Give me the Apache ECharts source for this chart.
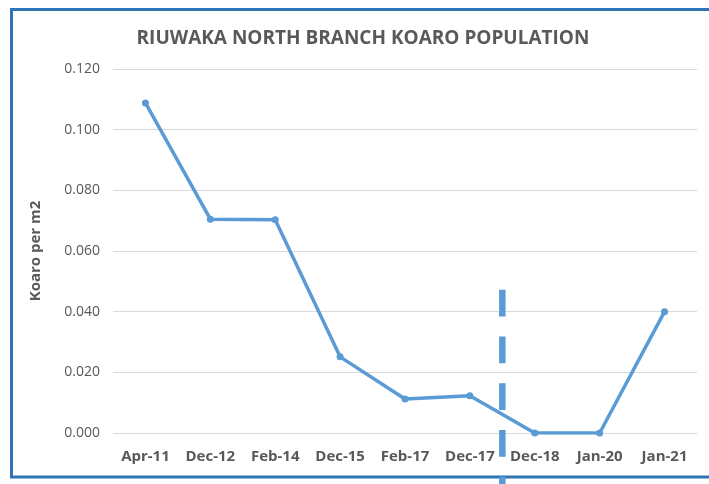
<!DOCTYPE html>
<html><head><meta charset="utf-8">
<script src="https://cdn.jsdelivr.net/npm/echarts@6/dist/echarts.min.js"></script>
<style>html,body{margin:0;padding:0;background:#fff}#c{width:709px;height:484px}</style>
</head><body><div id="c"></div>
<script>
const categories = ['Apr-11','Dec-12','Feb-14','Dec-15','Feb-17','Dec-17','Dec-18','Jan-20','Jan-21'];
const koaroPerM2 = [0.1088, 0.0705, 0.0703, 0.0251, 0.0112, 0.0123, 0.000, 0.000, 0.040];
const yTicks = {min: 0, max: 0.12, interval: 0.02};
const dividerBetween = ['Dec-17','Dec-18'];
const dividerTopValue = 0.0472;

const chart = echarts.init(document.getElementById('c'));
const font = '"Open Sans", "Liberation Sans", sans-serif';
chart.setOption({
  animation: false,
  title: {
    text: 'RIUWAKA NORTH BRANCH KOARO POPULATION',
    left: 358, top: 24, textAlign: 'center',
    textStyle: {fontFamily: font, fontSize: 19, fontWeight: 'bold', color: '#595959'}
  },
  grid: {left: 113, right: 12, top: 69, bottom: 51, containLabel: false},
  xAxis: {
    type: 'category', data: categories, boundaryGap: true,
    axisLine: {show: false}, axisTick: {show: false},
    axisLabel: {fontFamily: font, fontSize: 15, fontWeight: 'bold', color: '#595959', margin: 16}
  },
  yAxis: {
    type: 'value', min: yTicks.min, max: yTicks.max, interval: yTicks.interval,
    name: 'Koaro per m2', nameLocation: 'middle', nameGap: 70, nameRotate: 90,
    nameTextStyle: {fontFamily: font, fontSize: 15, fontWeight: 'bold', color: '#595959'},
    axisLine: {show: false}, axisTick: {show: false},
    axisLabel: {fontFamily: font, fontSize: 14, color: '#595959', margin: 13,
      formatter: v => v.toFixed(3)},
    splitLine: {lineStyle: {color: '#d9d9d9', width: 1}}
  },
  series: [{
    type: 'line', data: koaroPerM2,
    lineStyle: {color: '#5b9bd5', width: 3.5},
    itemStyle: {color: '#5b9bd5'},
    symbol: 'circle', symbolSize: 7
  }]
});

const x1 = chart.convertToPixel({xAxisIndex: 0}, dividerBetween[0]);
const x2 = chart.convertToPixel({xAxisIndex: 0}, dividerBetween[1]);
const xd = (x1 + x2) / 2;
const yTop = chart.convertToPixel({yAxisIndex: 0}, dividerTopValue);
chart.setOption({
  graphic: [
    {type: 'polyline', shape: {points: [[760, 477], [11.5, 477], [11.5, 9.5], [760, 9.5]]},
     style: {stroke: '#2f75b5', lineWidth: 3, fill: null}, z: 10},
    {type: 'line', shape: {x1: xd, y1: yTop, x2: xd, y2: 500},
     style: {stroke: '#5b9bd5', lineWidth: 6.5, lineDash: [26.7, 20]}, z: 11}
  ]
});
</script></body></html>
